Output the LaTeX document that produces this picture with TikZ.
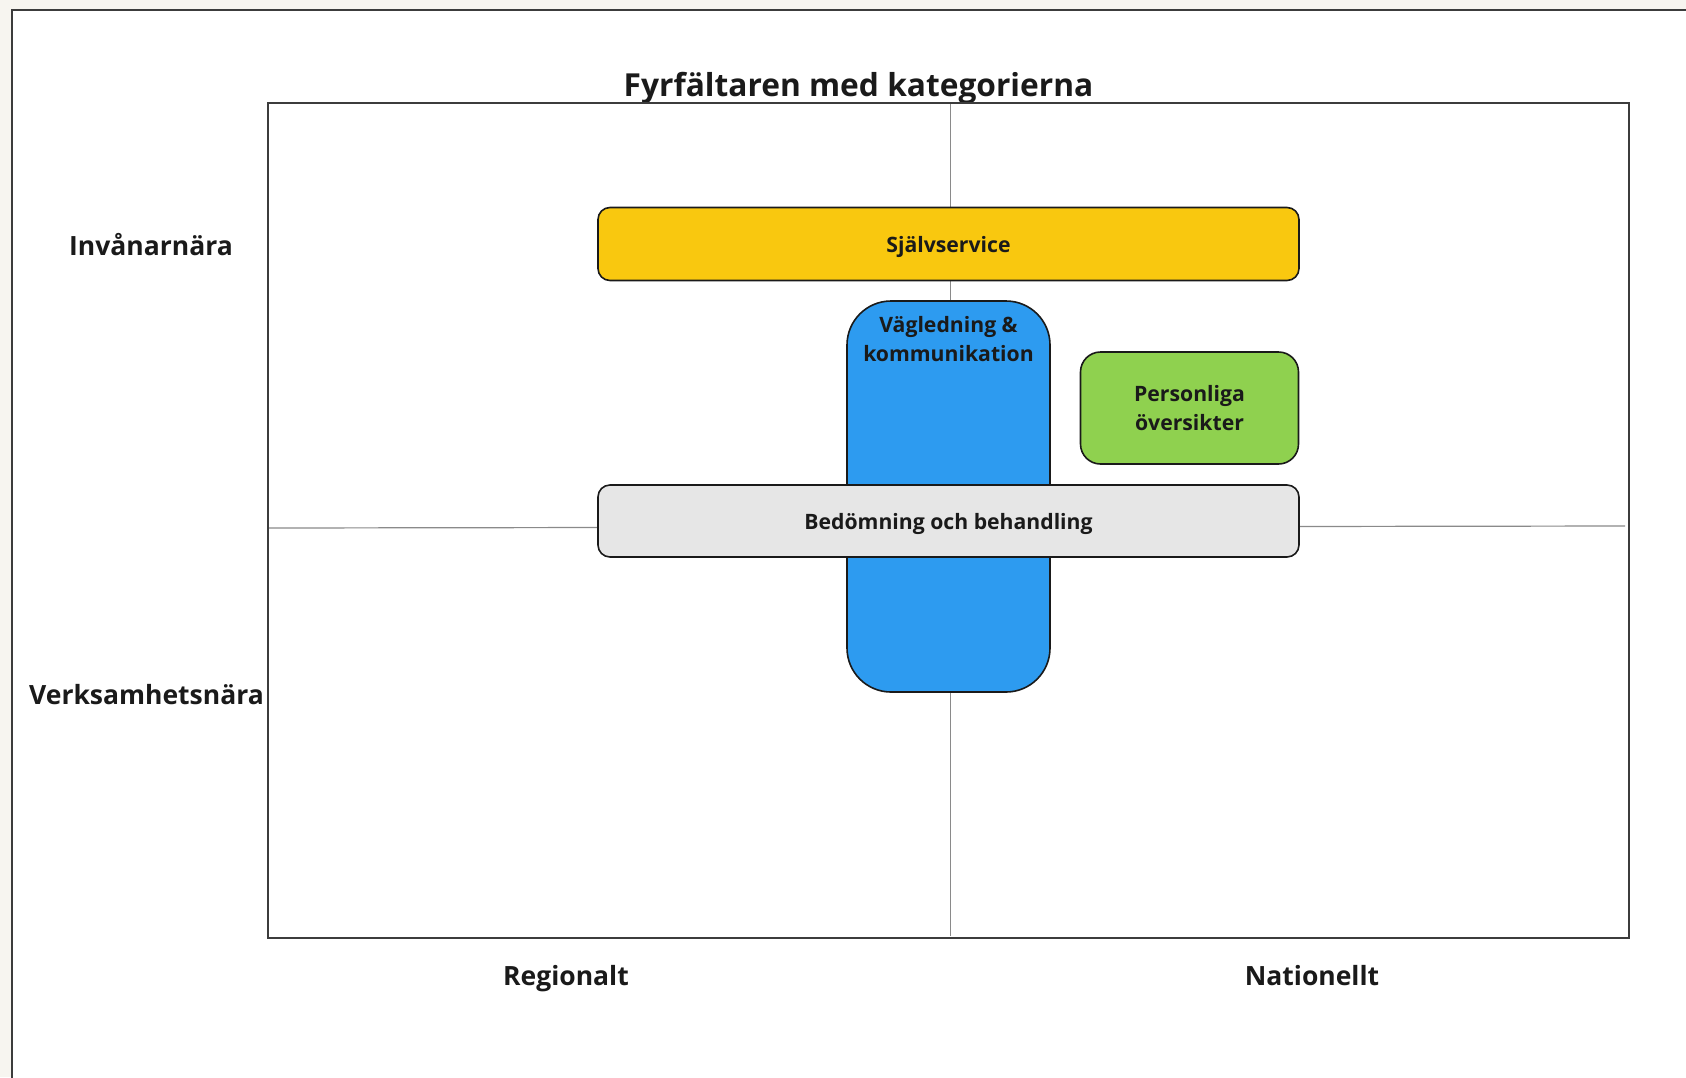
\documentclass[tikz,border=0pt]{standalone}
\usepackage{fontspec}
\setmainfont{Open Sans}
\definecolor{page}{HTML}{F7F5F0}
\definecolor{ink}{HTML}{1A1A1A}
\definecolor{frameline}{HTML}{3C3C3C}
\definecolor{divline}{HTML}{8A8A8A}
\definecolor{cyellow}{HTML}{F9C80F}
\definecolor{cblue}{HTML}{2D9BF0}
\definecolor{cgreen}{HTML}{8FD14F}
\definecolor{cgrey}{HTML}{E6E6E6}
\tikzset{
  catbox/.style={draw=ink, line width=1.6pt, inner sep=0pt, text=ink,
    font=\bfseries\fontsize{21.2}{29}\selectfont, align=center},
  axislabel/.style={text=ink, font=\bfseries\fontsize{26.5}{31}\selectfont, inner sep=0pt},
  divider/.style={draw=divline, line width=1.2pt},
}
\begin{document}
\begin{tikzpicture}[x=1pt,y=-1pt]
\useasboundingbox (0,0) rectangle (1686,1077);
\fill[page] (0,0) rectangle (1686,1077);
% white panel
\fill[white] (12,10) rectangle (1700,1090);
\draw[frameline, line width=2.2pt] (1700,10) -- (12,10) -- (12,1090);
% title
\node[text=ink, font=\bfseries\fontsize{31.7}{38}\selectfont, inner sep=0pt] (title) at (858.5,88) {Fyrfältaren med kategorierna};
% frame
\draw[frameline, line width=2pt] (268,103) rectangle (1629,938);
\coordinate (vtop) at (950.5,104);
\coordinate (vbot) at (950.5,936);
\coordinate (hleft) at (269,528);
\coordinate (hright) at (1625,526);
\draw[divider] (vtop) -- (vbot);
\draw[divider] (hleft) -- (hright);
% axis labels
\node[axislabel] (inv) at (151,245) {Invånarnära};
\node[axislabel] (verk) at (146.5,695) {Verksamhetsnära};
\node[axislabel, anchor=base] (reg) at (566,985) {Regionalt};
\node[axislabel, anchor=base] (nat) at (1312,985) {Nationellt};
% boxes
\node[catbox, text depth=0pt, fill=cyellow, rounded corners=12pt, minimum width=701pt, minimum height=73pt] (sjalv) at (948.5,244) {Självservice};
\node[catbox, fill=cblue, rounded corners=44pt, minimum width=203pt, minimum height=391pt] (vag) at (948.5,496.5) {};
\node[catbox, draw=none, fill=none] (vagtext) at (948.5,339) {Vägledning \&\\kommunikation};
\node[catbox, fill=cgreen, rounded corners=20pt, minimum width=218pt, minimum height=112pt] (pers) at (1189.5,408) {Personliga\\översikter};
\node[catbox, text depth=0pt, fill=cgrey, rounded corners=12pt, minimum width=701pt, minimum height=72pt] (bed) at (948.5,521) {Bedömning och behandling};
\end{tikzpicture}
\end{document}
